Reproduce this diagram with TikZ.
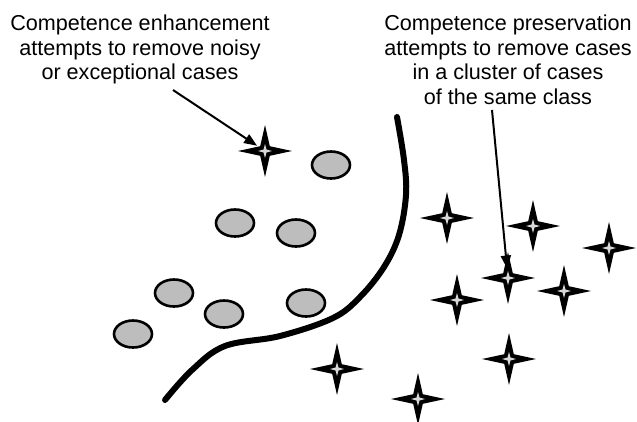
\documentclass[tikz,border=0pt]{standalone}
\usepackage{fontspec}
\setmainfont{Liberation Sans}
\usetikzlibrary{arrows.meta, shapes.geometric}
\definecolor{cgrey}{HTML}{BDBDBD}
\definecolor{clight}{HTML}{D8D8D8}
\tikzset{
  every picture/.style={line width=2pt},
  caption/.style={align=center, anchor=north, inner sep=0pt, font=\fontsize{21.6}{24.5}\selectfont},
  arrow/.style={-{Triangle[length=13pt, width=10pt]}, draw=black, line width=2pt},
  border/.style={line width=6pt, line cap=round, line join=round},
}

\begin{document}
\begin{tikzpicture}[x=1pt, y=-1pt,
  blob/.style={ellipse, draw=black, fill=cgrey, line width=2.6pt, minimum width=38pt, minimum height=27pt, inner sep=0pt},
  spark/.style={circle, minimum size=17pt, inner sep=0pt}]
  \useasboundingbox (0,0) rectangle (637,421);
  % ---------- texts ----------
  \node[caption] (enh) at (140, 14) {Competence enhancement\\attempts to remove noisy\\or exceptional cases};
  \node[caption] (pres) at (508, 14) {Competence preservation\\attempts to remove cases\\in a cluster of cases\\of the same class};
  \coordinate (enhtail) at (173, 90);
  \coordinate (prestail) at (492, 110);
  % ---------- cases of one class ----------
  \foreach \x/\y [count=\i] in {331/165, 235/223, 296/233, 174/293, 224/314, 306/303, 133/334}
    \node[blob] (e\i) at (\x, \y) {};
  % ---------- cases of the other class ----------
  \foreach \x/\y [count=\i] in {265/151, 447/218, 533/226, 609/248, 508/278, 564/291, 457/300, 509/359, 337/369, 418/399} {
    \node[spark] (s\i) at (\x, \y) {};
    \fill[shift={(s\i.center)}] (0,-26) -- (4.8,-4.8) -- (27,0) -- (4.8,4.8) -- (0,26) -- (-4.8,4.8) -- (-27,0) -- (-4.8,-4.8) -- cycle;
    \fill[clight, shift={(s\i.center)}] (0,-7) -- (1.5,-1.5) -- (7,0) -- (1.5,1.5) -- (0,7) -- (-1.5,1.5) -- (-7,0) -- (-1.5,-1.5) -- cycle;
  }
  % ---------- class border ----------
  \draw[border] plot[smooth, tension=0.6] coordinates {(397,117) (404,160) (406,195) (399,235) (384,267) (360,297) (333,318) (280,336) (225,346) (192,370) (165,400)};
  % ---------- arrows ----------
  \draw[arrow] (enhtail) -- (s1);
  \draw[arrow] (prestail) -- (s5);
\end{tikzpicture}
\end{document}
